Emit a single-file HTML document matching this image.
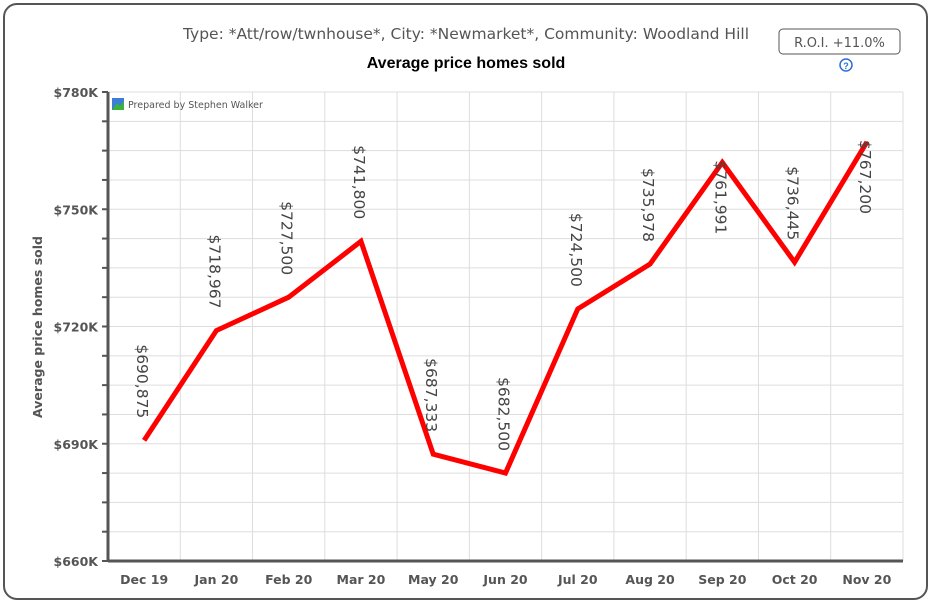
<!DOCTYPE html>
<html><head><meta charset="utf-8"><style>
body{margin:0;background:#fff;font-family:"Liberation Sans",sans-serif;}
#frame{position:absolute;left:3px;top:3px;width:925px;height:597px;border:2px solid #555;border-radius:14px;box-sizing:border-box;}
</style></head><body>
<div id="frame"></div>
<svg id="c" width="933" height="606" style="position:absolute;left:0;top:0">
<text x="466" y="39" text-anchor="middle" font-size="15.5" font-family="DejaVu Sans" fill="#555">Type: *Att/row/twnhouse*, City: *Newmarket*, Community: Woodland Hill</text>
<text x="466" y="68" text-anchor="middle" font-size="16" font-weight="bold" fill="#000">Average price homes sold</text>
<g><rect x="779" y="29" width="121" height="25" rx="4" fill="#fff" stroke="#555"/><text x="839.5" y="47" text-anchor="middle" font-size="13" font-family="DejaVu Sans" fill="#555">R.O.I. +11.0%</text></g>
<g><circle cx="846" cy="65" r="6" fill="none" stroke="#2a6ed8" stroke-width="1.5"/><text x="846" y="69" text-anchor="middle" font-size="9" font-weight="bold" fill="#2a6ed8">?</text></g>
<text transform="translate(42,327) rotate(-90)" text-anchor="middle" font-size="12.5" font-family="DejaVu Sans" font-weight="bold" fill="#555">Average price homes sold</text>
<g id="grid"></g><g id="axes"></g><g id="marks"></g>
<g><rect x="112" y="98" width="12" height="12" fill="#3b7dd8"/><polygon points="112,110 117,103 120,106 124,101 124,110" fill="#3bb33b"/><text x="128" y="108" font-size="9.5" font-family="DejaVu Sans" fill="#555">Prepared by Stephen Walker</text></g>
</svg>
<script>
const categories=["Dec 19","Jan 20","Feb 20","Mar 20","May 20","Jun 20","Jul 20","Aug 20","Sep 20","Oct 20","Nov 20"];
const values=[690875,718967,727500,741800,687333,682500,724500,735978,761991,736445,767200];
const yTicks=[660000,690000,720000,750000,780000];
const yTickLabels=["$660K","$690K","$720K","$750K","$780K"];
const NS="http://www.w3.org/2000/svg";
const L=108,R=903,T=92,B=561,ymin=660000,ymax=780000;
const bw=(R-L)/categories.length;
const xs=i=>L+bw*(i+0.5);
const ys=v=>B-(v-ymin)/(ymax-ymin)*(B-T);
function mk(tag,a,parent){const e=document.createElementNS(NS,tag);for(const k in a)e.setAttribute(k,a[k]);parent.appendChild(e);return e;}
const grid=document.getElementById('grid'),axes=document.getElementById('axes'),marks=document.getElementById('marks');
for(let v=ymin;v<=ymax;v+=7500){
 const g=mk('line',{x1:L,x2:R,y1:ys(v),y2:ys(v),stroke:'#ddd'},grid);
 
 
 const t=mk('line',{x1:L-6,x2:L,y1:ys(v),y2:ys(v),stroke:'#555','stroke-width':2},axes);
 
 
}
for(let i=1;i<=categories.length;i++){
 const g=mk('line',{x1:L+bw*i,x2:L+bw*i,y1:T,y2:B,stroke:'#ddd'},grid);
 
 
}
yTicks.forEach((v,i)=>{
 const t=mk('text',{x:L-10,y:ys(v)+5,'text-anchor':'end','font-size':12.5,'font-family':'DejaVu Sans','font-weight':'bold',fill:'#555'},axes);
 t.textContent=yTickLabels[i];
 
 
});
const ya=mk('line',{x1:L,x2:L,y1:T,y2:B+1,stroke:'#555','stroke-width':3},axes);


const xa=mk('line',{x1:L,x2:R,y1:B,y2:B,stroke:'#555','stroke-width':3},axes);


categories.forEach((c,i)=>{
 const t=mk('text',{x:xs(i),y:B+23,'text-anchor':'middle','font-size':12.5,'font-family':'DejaVu Sans','font-weight':'bold',fill:'#555'},axes);
 t.textContent=c;
 
 
});
const line=mk('polyline',{points:values.map((v,i)=>xs(i)+','+ys(v)).join(' '),fill:'none',stroke:'#f00','stroke-width':5,'stroke-linejoin':'miter'},marks);


const LW=82;
values.forEach((v,i)=>{
 const x=xs(i);let top=ys(v)-14-LW;
 if(top<T+4) top=ys(v)-2;
 const t=mk('text',{transform:`translate(${x-7},${top}) rotate(90)`,'text-anchor':'start','font-size':15.5,'font-family':'DejaVu Sans',fill:'#444'},marks);
 t.textContent='$'+v.toLocaleString('en-US');
 
 
});
</script>
</body></html>
